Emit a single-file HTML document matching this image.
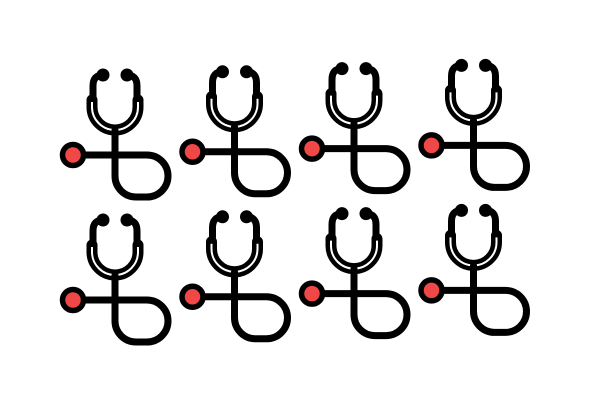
<!DOCTYPE html>
<html><head><meta charset="utf-8"><style>
html,body{margin:0;padding:0;background:#fff;width:600px;height:400px;overflow:hidden}
</style></head><body>
<svg id="chart" width="600" height="400">
<defs>
<g id="steth">
<path d="M103,75 Q93,75 93,86 L93,102" fill="none" stroke="#000" stroke-width="7" stroke-linecap="round"/>
<path d="M127,75 Q137,75 137,86 L137,102" fill="none" stroke="#000" stroke-width="7" stroke-linecap="round"/>
<circle cx="103" cy="75" r="6.5" fill="#000"/>
<circle cx="127" cy="75" r="6.5" fill="#000"/>
<path d="M92,100 L92,107 A23,23 0 0 0 138,107 L138,100" fill="none" stroke="#000" stroke-width="11" stroke-linecap="round"/>
<path d="M92,102 L92,107 A23,23 0 0 0 138,107 L138,102" fill="none" stroke="#fff" stroke-width="2"/>
<path d="M115,130 L115,176 A21,21 0 0 0 136,197 L147,197 A21,21 0 0 0 147,155 L78,155" fill="none" stroke="#000" stroke-width="7" stroke-linecap="round"/>
<circle cx="73" cy="155" r="10.5" fill="#f04747" stroke="#000" stroke-width="5.5"/>
</g>
</defs>
<g id="icons"></g>
</svg>
<script>
const rows = ['row-1','row-2'];
const counts = [4,4];
const rowY = [0,145];
const g = document.getElementById('icons');
rows.forEach((r,ri)=>{
  for(let i=0;i<counts[ri];i++){
    const u=document.createElementNS('http://www.w3.org/2000/svg','use');
    u.setAttribute('href','#steth');
    u.setAttribute('transform','translate('+(i*119.5)+','+(rowY[ri]-i*3.2)+')');
    
    
    g.appendChild(u);
  }
});
</script>
</body></html>
